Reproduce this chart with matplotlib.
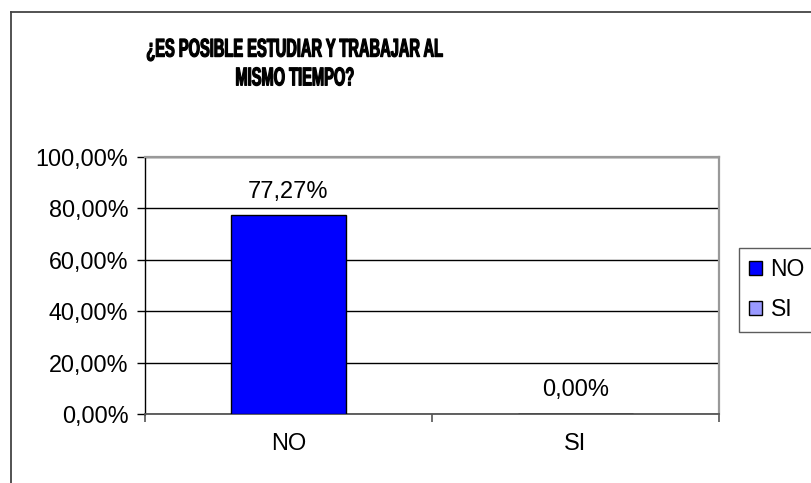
import matplotlib
matplotlib.use("Agg")
import matplotlib.pyplot as plt
from matplotlib.patches import Patch
from matplotlib.lines import Line2D
from matplotlib.patheffects import AbstractPathEffect
from matplotlib.transforms import Affine2D

categories = ["NO", "SI"]
values = [77.27, 0.00]
colors = ["#0000FF", "#9999FF"]
yticks = [0, 20, 40, 60, 80, 100]
ytick_labels = ["0,00%", "20,00%", "40,00%", "60,00%", "80,00%", "100,00%"]
bar_labels = ["77,27%", "0,00%"]
title = "¿ES POSIBLE ESTUDIAR Y TRABAJAR AL\nMISMO TIEMPO?"


class XSqueeze(AbstractPathEffect):
    """Draw text condensed horizontally about a centre x (display pixels), with a thin outline."""
    def __init__(self, sx, cx, stroke=0.9):
        super().__init__()
        self.sx, self.cx, self.stroke = sx, cx, stroke

    def draw_path(self, renderer, gc, tpath, affine, rgbFace=None):
        t = affine + Affine2D().translate(-self.cx, 0).scale(self.sx, 1).translate(self.cx, 0)
        gc0 = renderer.new_gc()
        gc0.copy_properties(gc)
        gc0.set_linewidth(self.stroke)
        gc0.set_foreground("black")
        gc0.set_joinstyle("round")
        renderer.draw_path(gc0, tpath, t, rgbFace)
        gc0.restore()


W, H = 812, 483
fig = plt.figure(figsize=(W / 100, H / 100), dpi=100)
plt.rcParams['font.family'] = ['Liberation Sans', 'DejaVu Sans']

# outer chart frame
fig.add_artist(Line2D([11 / W, 11 / W], [0, 1 - 12 / H], transform=fig.transFigure, color="#444444", lw=1.3))
fig.add_artist(Line2D([11 / W, 1], [1 - 12 / H, 1 - 12 / H], transform=fig.transFigure, color="#444444", lw=1.3))

left, right, top, bottom = 145, 719, 157, 414
ax = fig.add_axes([left / W, 1 - bottom / H, (right - left) / W, (bottom - top) / H])

x = list(range(len(categories)))
ax.bar(x, values, width=0.4, color=colors, edgecolor="black", linewidth=1.0, zorder=3)
ax.set_xlim(-0.5, len(categories) - 0.5)
ax.set_ylim(0, 100)
ax.set_yticks(yticks)
ax.set_yticklabels(ytick_labels, fontsize=16.8)
ax.set_xticks(x)
ax.set_xticklabels(categories, fontsize=17)
ax.tick_params(axis="x", length=0, pad=14)
ax.tick_params(axis="y", length=5.5, width=1, color="black", pad=6.5)
ax.set_xticks([-0.5, 0.5, 1.5], minor=True)
ax.tick_params(axis="x", which="minor", length=5.5, width=1.2, color="#555555", direction="out")

ax.grid(axis="y", color="black", linewidth=1.0, zorder=0)
for s in ["top", "right"]:
    ax.spines[s].set_color("#999999")
    ax.spines[s].set_linewidth(1.6)
ax.spines["left"].set_color("black")
ax.spines["left"].set_linewidth(1.0)
ax.spines["bottom"].set_color("#555555")
ax.spines["bottom"].set_linewidth(1.3)

for xi, v, lab in zip(x, values, bar_labels):
    ax.annotate(lab, (xi, v), xytext=(0, 12.8), textcoords="offset points",
                ha="center", va="baseline", fontsize=17)

tx, ty = 295, 64
fig.text(tx / W, 1 - ty / H, title, ha="center", va="center", fontsize=18.5,
         fontweight="bold", linespacing=1.25,
         path_effects=[XSqueeze(0.57, tx, 0.85)])

handles = [Patch(facecolor=c, edgecolor="black", label=l) for c, l in zip(colors, categories)]
leg = fig.legend(handles=handles, loc="upper left", bbox_to_anchor=(739 / W, 1 - 248 / H),
                 fontsize=16.5, frameon=True, fancybox=False, edgecolor="#333333",
                 handlelength=0.57, handleheight=0.57, handletextpad=0.36, borderpad=0.45,
                 labelspacing=0.75, borderaxespad=0)
leg.get_frame().set_linewidth(1.0)

fig.savefig("out.png", dpi=100)
